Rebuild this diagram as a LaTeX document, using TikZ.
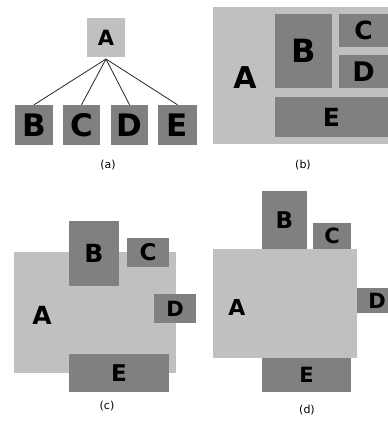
\documentclass[tikz,border=0pt]{standalone}
\usepackage{fontspec}
\setmainfont{DejaVu Sans}
\definecolor{lg}{HTML}{C0C0C0}
\definecolor{dg}{HTML}{808080}
\tikzset{
  lbox/.style={fill=lg, draw=none, inner sep=0pt, font=\bfseries},
  dbox/.style={fill=dg, draw=none, inner sep=0pt, font=\bfseries},
  lettr/.style={inner sep=0pt, font=\bfseries},
  captext/.style={inner sep=0pt, font=\fontsize{11}{13}\selectfont},
  fs/.style={font=\fontsize{#1}{#1}\selectfont\bfseries},
  conn/.style={draw=black!85, line width=0.8pt}
}
\begin{document}
\begin{tikzpicture}[x=1pt,y=-1pt]
\useasboundingbox (0,0) rectangle (388,421);
% (a)
\node[lbox, fs=21, minimum width=38pt, minimum height=39pt] (aA) at (106,37.5) {A};
\node[dbox, fs=31, minimum width=38pt, minimum height=40pt] (aB) at (34,125) {B};
\node[dbox, fs=31, minimum width=37pt, minimum height=40pt] (aC) at (81.5,125) {C};
\node[dbox, fs=31, minimum width=37pt, minimum height=40pt] (aD) at (129.5,125) {D};
\node[dbox, fs=31, minimum width=39pt, minimum height=40pt] (aE) at (177.5,125) {E};
\coordinate (ap) at (106,59);
\draw[conn] (ap) -- (aB.north);
\draw[conn] (ap) -- (aC.north);
\draw[conn] (ap) -- (aD.north);
\draw[conn] (ap) -- (aE.north);
\node[captext] (capa) at (108,165) {(a)};
% (b)
\node[lbox, minimum width=182pt, minimum height=137pt] (bA) at (304,75.5) {};
\node[lettr, fs=30] (bAl) at (245,78) {A};
\node[dbox, fs=32, minimum width=57pt, minimum height=74pt] (bB) at (303.5,51) {B};
\node[dbox, fs=25, minimum width=49pt, minimum height=33pt] (bC) at (363.5,30.5) {C};
\node[dbox, fs=27, minimum width=49pt, minimum height=33pt] (bD) at (363.5,71.5) {D};
\node[dbox, fs=25, minimum width=113pt, minimum height=40pt] (bE) at (331.5,117) {E};
\node[captext] (capb) at (303,165) {(b)};
% (c)
\node[lbox, minimum width=162pt, minimum height=121pt] (cA) at (95,312.5) {};
\node[lettr, fs=25] (cAl) at (42,315) {A};
\node[dbox, fs=25, minimum width=50pt, minimum height=65pt] (cB) at (94,253.5) {B};
\node[dbox, fs=23, minimum width=42pt, minimum height=29pt] (cC) at (148,252.5) {C};
\node[dbox, fs=21, minimum width=42pt, minimum height=29pt] (cD) at (175,308.5) {D};
\node[dbox, fs=23, minimum width=100pt, minimum height=38pt] (cE) at (119,373) {E};
\node[captext] (capc) at (107,406) {(c)};
% (d)
\node[lbox, minimum width=144pt, minimum height=109pt] (dA) at (285,303.5) {};
\node[lettr, fs=22] (dAl) at (237,307) {A};
\node[dbox, fs=23, minimum width=45pt, minimum height=58pt] (dB) at (284.5,220) {B};
\node[dbox, fs=21, minimum width=38pt, minimum height=26pt] (dC) at (332,236) {C};
\node[dbox, fs=21, minimum width=40pt, minimum height=25pt] (dD) at (377,300.5) {D};
\node[dbox, fs=21, minimum width=89pt, minimum height=34pt] (dE) at (306.5,375) {E};
\node[captext] (capd) at (307,410) {(d)};
\end{tikzpicture}
\end{document}
